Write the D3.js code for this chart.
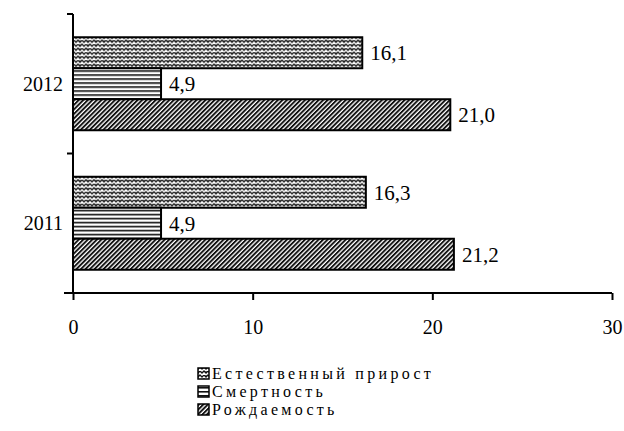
<!DOCTYPE html>
<html>
<head>
<meta charset="utf-8">
<script src="https://cdn.jsdelivr.net/npm/d3@7"></script>
<style>
  body { margin: 0; background: #fff; }
  svg text { font-family: "Liberation Serif", "Times New Roman", "DejaVu Serif", serif; fill: #000; }
</style>
</head>
<body>
<svg width="624" height="431"></svg>
<script>
// values
var years = ["2012", "2011"];
var seriesNames = ["Естественный прирост", "Смертность", "Рождаемость"];
var natGrowth = [16.1, 16.3];
var mortality = [4.9, 4.9];
var birthRate = [21.0, 21.2];
var xTicks = [0, 10, 20, 30];

var seriesKeys = ["grow", "mort", "birth"];
var rows = years.map(function(y, i) {
    return {year: y, grow: natGrowth[i], mort: mortality[i], birth: birthRate[i]};
});

var svg = d3.select("svg");
var fmt = d3.formatLocale({decimal: ",", thousands: " ", grouping: [3], currency: ["", ""]}).format(".1f");

// patterns
var defs = svg.append("defs");

var pWeave = defs.append("pattern")
    .attr("id", "p-grow")
    .attr("patternUnits", "userSpaceOnUse")
    .attr("width", 8).attr("height", 8);
pWeave.append("rect").attr("width", 8).attr("height", 8).attr("fill", "#111");
pWeave.append("path")
    .attr("d", "M0,3 L2,1 L4,3 L6,1 L8,3 M0,7 L2,5 L4,7 L6,5 L8,7 M2,1 L2,3 M6,5 L6,7")
    .attr("fill", "none")
    .attr("stroke", "#fff")
    .attr("stroke-width", 1.5);

var pStripe = defs.append("pattern")
    .attr("id", "p-mort")
    .attr("patternUnits", "userSpaceOnUse")
    .attr("width", 8).attr("height", 4);
pStripe.append("rect").attr("width", 8).attr("height", 4).attr("fill", "#fff");
pStripe.append("rect").attr("y", 1).attr("width", 8).attr("height", 1.6).attr("fill", "#111");

var pDiag = defs.append("pattern")
    .attr("id", "p-birth")
    .attr("patternUnits", "userSpaceOnUse")
    .attr("width", 3.2).attr("height", 3.2)
    .attr("patternTransform", "rotate(45)");
pDiag.append("rect").attr("width", 3.2).attr("height", 3.2).attr("fill", "#fff");
pDiag.append("rect").attr("width", 1.9).attr("height", 3.2).attr("fill", "#111");

// scales
var x = d3.scaleLinear()
    .domain([0, 30])
    .range([73, 612]);

var y0 = d3.scaleBand()
    .domain(years)
    .range([14, 293])
    .paddingInner(1 / 3)
    .paddingOuter(1 / 6);

var y1 = d3.scaleBand()
    .domain(seriesKeys)
    .range([0, y0.bandwidth()]);

// bars
var groups = svg.append("g").selectAll("g")
    .data(rows)
    .join("g")
    .attr("transform", function(d) { return "translate(0," + y0(d.year) + ")"; });

groups.selectAll("rect")
    .data(function(d) { return seriesKeys.map(function(k) { return {key: k, value: d[k]}; }); })
    .join("rect")
    .attr("x", x(0))
    .attr("y", function(d) { return y1(d.key); })
    .attr("width", function(d) { return x(d.value) - x(0); })
    .attr("height", y1.bandwidth())
    .attr("fill", function(d) { return "url(#p-" + d.key + ")"; })
    .attr("stroke", "#000")
    .attr("stroke-width", 2);

groups.selectAll("text")
    .data(function(d) { return seriesKeys.map(function(k) { return {key: k, value: d[k]}; }); })
    .join("text")
    .attr("x", function(d) { return x(d.value) + 8; })
    .attr("y", function(d) { return y1(d.key) + y1.bandwidth() / 2; })
    .attr("dy", "0.35em")
    .attr("font-size", 21)
    .text(function(d) { return fmt(d.value); });

// x axis
var xAxis = d3.axisBottom(x)
    .tickValues(xTicks)
    .tickSize(7)
    .tickPadding(20)
    .tickSizeOuter(0);

var gX = svg.append("g")
    .attr("transform", "translate(0,293)")
    .call(xAxis)
    .attr("font-family", null);
gX.select(".domain").attr("d", "M64,0H612").attr("stroke-width", 2);
gX.selectAll(".tick line").attr("stroke-width", 2);
gX.selectAll(".tick text")
    .attr("font-size", 20);

// y axis: ticks on band edges, labels in band centres
var gY = svg.append("g")
    .attr("transform", "translate(73,0)");
gY.append("line")
    .attr("y1", 14).attr("y2", 293)
    .attr("stroke", "#000").attr("stroke-width", 2);
var edges = [14, y0.range()[0] + y0.step(), 293];
gY.selectAll(".edge")
    .data(edges)
    .join("line")
    .attr("class", "edge")
    .attr("x1", -6).attr("x2", 0)
    .attr("y1", function(d) { return d; })
    .attr("y2", function(d) { return d; })
    .attr("stroke", "#000").attr("stroke-width", 2);
gY.selectAll(".ylab")
    .data(years)
    .join("text")
    .attr("class", "ylab")
    .attr("x", -10)
    .attr("y", function(d) { return y0(d) + y0.bandwidth() / 2; })
    .attr("dy", "0.35em")
    .attr("text-anchor", "end")
    .attr("font-size", 20)
    .text(function(d) { return d; });

// legend
var legend = svg.append("g")
    .attr("transform", "translate(198,368)");
var li = legend.selectAll("g")
    .data(seriesKeys)
    .join("g")
    .attr("transform", function(d, i) { return "translate(0," + (i * 18) + ")"; });
li.append("rect")
    .attr("width", 11).attr("height", 11)
    .attr("fill", function(d) { return "url(#p-" + d + ")"; })
    .attr("stroke", "#000").attr("stroke-width", 1.5);
li.append("text")
    .attr("x", 14)
    .attr("y", 11)
    .attr("font-size", 16)
    .attr("letter-spacing", 3.3)
    .text(function(d, i) { return seriesNames[i]; });
</script>
</body>
</html>
